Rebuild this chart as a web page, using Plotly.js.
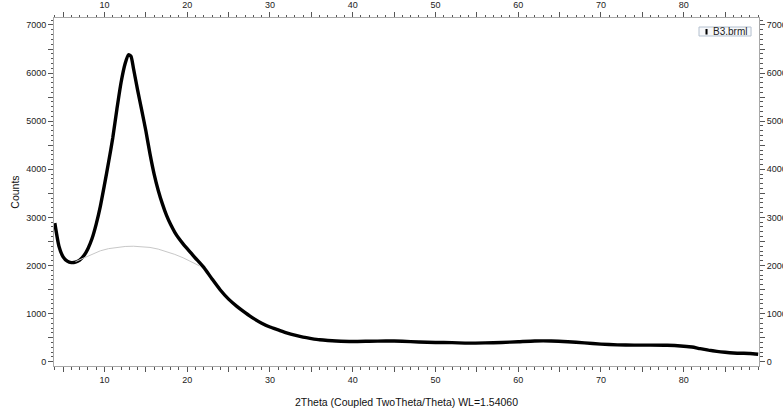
<!DOCTYPE html>
<html>
<head>
<meta charset="utf-8">
<script src="https://cdn.plot.ly/plotly-3.0.1.min.js"></script>
<style>html,body{margin:0;padding:0;background:#fff;}#chart{width:783px;height:415px;}</style>
</head>
<body>
<div id="chart"></div>
<script>
// Measured pattern (2Theta, Counts)
var twoTheta = [4.0,4.5,5.0,5.5,6.0,6.5,7.0,7.5,8.0,8.5,9.0,9.5,10.0,10.5,11.0,11.5,12.0,12.5,12.9,13.2,13.5,14.0,14.5,15.0,15.5,16.0,16.5,17.0,17.5,18.0,18.5,19.0,19.5,20.0,20.5,21.0,21.5,22.0,23.0,24.0,25.0,26.0,27.0,28.0,29.0,30.0,31.0,32.0,33.0,34.0,35.0,36.0,37.0,38.0,40.0,42.0,44.0,46.0,48.0,50.0,52.0,54.0,56.0,58.0,60.0,62.0,64.0,66.0,68.0,70.0,72.0,74.0,76.0,78.0,80.0,81.0,82.0,83.0,84.0,85.0,86.0,87.0,88.0,89.0];
var counts = [2880,2400,2180,2090,2060,2070,2110,2200,2350,2560,2860,3230,3680,4150,4650,5250,5800,6200,6380,6350,6100,5650,5230,4800,4320,3900,3560,3280,3040,2850,2690,2560,2450,2350,2250,2150,2060,1960,1720,1490,1300,1150,1020,900,800,720,660,600,550,510,480,455,440,430,420,425,430,425,410,400,395,385,390,400,415,430,430,415,390,365,350,345,345,340,320,305,270,240,215,195,180,175,170,155];
// Background (amorphous hump baseline)
var bgTheta = [6.5,7.5,8.5,9.5,10.5,11.5,12.5,13.5,14.5,15.5,16.5,17.5,18.5,19.5,20.5,21.5];
var bgCounts = [2080,2160,2240,2305,2350,2380,2395,2400,2395,2375,2340,2290,2230,2160,2080,1990];
var seriesName = "B3.brml";
var xTicks = [5,10,15,20,25,30,35,40,45,50,55,60,65,70,75,80,85];
var xLabels = ["","10","","20","","30","","40","","50","","60","","70","","80",""];
var yTicks = [0,500,1000,1500,2000,2500,3000,3500,4000,4500,5000,5500,6000,6500,7000];
var yLabels = ["0","","1000","","2000","","3000","","4000","","5000","","6000","","7000"];

var xr = [3.9, 89.1], yr = [-90, 7145];
var fam = "Liberation Sans, Arial, sans-serif";
var tickFont = {family: fam, size: 9, color: "#222"};
var lineCol = "#a8a8a8", tickCol = "#555";

var traces = [
  {x: bgTheta, y: bgCounts, xaxis: "x2", yaxis: "y2", mode: "lines", line: {color: "#c8c8c8", width: 1}, showlegend: false, hoverinfo: "skip"},
  {x: twoTheta, y: counts, xaxis: "x", yaxis: "y", mode: "lines", name: seriesName, line: {color: "#000", width: 3.4, shape: "spline", smoothing: 0.6}, showlegend: false}
];

function ax(range, extra){
  return Object.assign({range: range, showgrid: false, zeroline: false, fixedrange: true, tickfont: tickFont,
    tickcolor: tickCol, tickwidth: 1, linecolor: lineCol, linewidth: 1, showline: true,
    ticks: "outside", ticklen: 5, tickmode: "array"}, extra);
}

var layout = {
  width: 783, height: 415,
  margin: {l: 54, r: 24, t: 18, b: 49},
  paper_bgcolor: "#fff", plot_bgcolor: "#fff",
  showlegend: false,
  xaxis: ax(xr, {tickvals: xTicks, ticktext: xLabels,
    minor: {dtick: 1, ticks: "outside", ticklen: 2.5, tickcolor: tickCol},
    title: {text: "2Theta (Coupled TwoTheta/Theta) WL=1.54060", font: {family: fam, size: 10.5, color: "#111"}, standoff: 14}}),
  xaxis2: ax(xr, {overlaying: "x", side: "top", tickvals: xTicks, ticktext: xLabels,
    minor: {dtick: 1, ticks: "outside", ticklen: 2.5, tickcolor: tickCol}}),
  yaxis: ax(yr, {tickvals: yTicks, ticktext: yLabels,
    minor: {dtick: 100, ticks: "outside", ticklen: 2.5, tickcolor: tickCol},
    title: {text: "Counts", font: {family: fam, size: 10.5, color: "#111"}, standoff: 4}}),
  yaxis2: ax(yr, {overlaying: "y", side: "right", tickvals: yTicks, ticktext: yLabels,
    minor: {dtick: 100, ticks: "outside", ticklen: 2.5, tickcolor: tickCol}}),
  shapes: [
    {type: "rect", xref: "paper", yref: "paper", x0: 0.9149, x1: 0.9887, y0: 0.9483, y1: 0.9741,
     fillcolor: "#f7f8fa", line: {color: "#b4c0cf", width: 1}},
    {type: "rect", xref: "paper", yref: "paper", x0: 0.9241, x1: 0.9270, y0: 0.9525, y1: 0.9685,
     fillcolor: "#000", line: {width: 0}}
  ],
  annotations: [{
    xref: "paper", yref: "paper", x: 0.9858, y: 0.9612, xanchor: "right", yanchor: "middle",
    text: seriesName, showarrow: false, font: {family: fam, size: 10, color: "#222"}
  }]
};

Plotly.newPlot("chart", traces, layout, {staticPlot: true, displayModeBar: false});
</script>
</body>
</html>
